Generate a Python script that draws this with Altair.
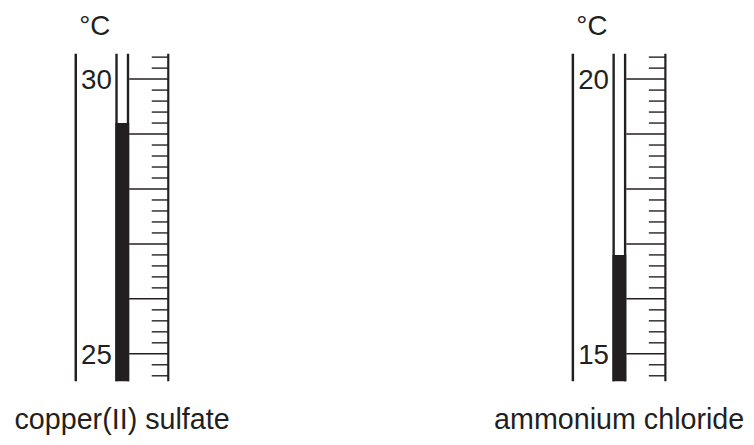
import altair as alt
import pandas as pd

# ---- data -------------------------------------------------------------
substances = ["copper(II) sulfate", "ammonium chloride"]
readings = [29.2, 16.8]                 # thermometer readings, °C
scale_low = [24.5, 14.5]                # visible bottom of each scale
scale_high = [30.46, 20.46]             # visible top of each scale
major_ticks = [[25, 26, 27, 28, 29, 30], [15, 16, 17, 18, 19, 20]]
labelled_ticks = [[25, 30], [15, 20]]
unit_label = "°C"

# ---- layout / style -----------------------------------------------------
INK = "#231f20"
FONT = "Liberation Sans"
W, H = 746, 331
OX, OY = 8, 52          # page position of the plot origin
OFFSETS = [0, 502.5]    # horizontal shift of each thermometer


def px(x):
    return x - OX


def py(y):
    return y - OY


def minor_ticks(i):
    first = major_ticks[i][0]
    vals = [round(first - 0.4 + 0.2 * k, 1) for k in range(30)]
    return [v for v in vals if abs(v - round(v)) > 1e-6]


def thermometer(i):
    dx = OFFSETS[i]
    lo, hi = scale_low[i], scale_high[i]
    ys = alt.Scale(domain=[lo, hi], nice=False, zero=False)
    frame = pd.DataFrame({"lo": [lo], "hi": [hi], "reading": [readings[i]]})
    majors = pd.DataFrame({"t": major_ticks[i]})
    minors = pd.DataFrame({"t": minor_ticks(i)})
    labels = pd.DataFrame({"t": labelled_ticks[i],
                           "lab": [str(v) for v in labelled_ticks[i]]})
    base = alt.Chart(frame)

    def vline(xpos, sw):
        return base.mark_rule(color=INK, strokeWidth=sw).encode(
            x=alt.value(px(xpos + dx)),
            y=alt.Y("lo:Q", scale=ys, axis=None),
            y2="hi:Q",
        )

    outer = vline(76.5, 2.5)
    tube_l = vline(117.7, 2.4)
    tube_r = vline(129.3, 2.4)
    scale_line = vline(170, 2.2)

    mercury = base.mark_rect(color=INK).encode(
        x=alt.value(px(116.5 + dx)),
        x2=alt.value(px(130.5 + dx)),
        y=alt.Y("lo:Q", scale=ys, axis=None),
        y2="reading:Q",
    )

    major_rules = alt.Chart(majors).mark_rule(color=INK, strokeWidth=1.5).encode(
        x=alt.value(px(130.5 + dx)),
        x2=alt.value(px(170 + dx)),
        y=alt.Y("t:Q", scale=ys, axis=None),
    )
    minor_rules = alt.Chart(minors).mark_rule(color=INK, strokeWidth=1.4).encode(
        x=alt.value(px(153.3 + dx)),
        x2=alt.value(px(170 + dx)),
        y=alt.Y("t:Q", scale=ys, axis=None),
    )
    tick_text = alt.Chart(labels).mark_text(
        align="right", baseline="alphabetic", dy=10, fontSize=28,
        font=FONT, color=INK,
    ).encode(
        x=alt.value(px(113 + dx)),
        y=alt.Y("t:Q", scale=ys, axis=None),
        text="lab:N",
    )
    unit = base.mark_text(
        align="left", baseline="alphabetic", fontSize=28, font=FONT,
        color=INK, text=unit_label,
    ).encode(x=alt.value(px(80 + dx)), y=alt.value(py(33.3)))

    name = base.mark_text(
        align="center", baseline="alphabetic", fontSize=29, font=FONT,
        color=INK, text=substances[i],
    ).encode(x=alt.value(px(123.3 + dx)), y=alt.value(py(431)))

    return alt.layer(outer, tube_l, tube_r, scale_line, mercury,
                     major_rules, minor_rules, tick_text, unit, name)


chart = (
    alt.layer(thermometer(0), thermometer(1))
    .resolve_scale(y="independent")
    .properties(
        width=W,
        height=H,
        autosize=alt.AutoSizeParams(type="none"),
        padding={"left": 0, "right": 0, "top": 44, "bottom": 54},
        background="white",
    )
    .configure_view(stroke=None)
)

chart.save("out.html", embed_options={"renderer": "svg", "actions": False})
